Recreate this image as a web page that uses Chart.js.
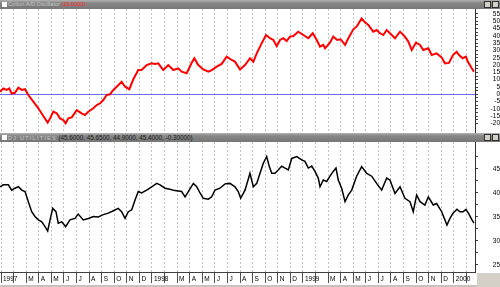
<!DOCTYPE html>
<html><head><meta charset="utf-8">
<script src="https://cdn.jsdelivr.net/npm/chart.js@4.4.1/dist/chart.umd.min.js"></script>
<style>
html,body{margin:0;padding:0;background:#fff;}
body{width:500px;height:287px;position:relative;overflow:hidden;font-family:"Liberation Sans",Arial,sans-serif;}
.bar{position:absolute;left:0;width:500px;height:9px;background:linear-gradient(#b4b4b4,#888 30%,#767676);font-size:5.6px;line-height:9px;color:#c4c4c4;white-space:nowrap;}
.bar .ico{position:absolute;left:2px;top:2px;width:5px;height:5px;background:#fff;}
.bar .t{position:absolute;left:8px;top:0;}
.bar .r{color:#ff2a2a;}
.bar .k{color:#1a1a1a;font-size:6.3px;}
.bar .n{letter-spacing:1.2px;}
.btn{position:absolute;top:1px;width:7px;height:7px;background:#d4d0c8;border:1px solid #303030;box-sizing:border-box;}
canvas{position:absolute;left:0;}
</style></head>
<body>
<div class="bar" style="top:0"><div class="ico"></div><div class="t">Cotton A/D Oscillator <span class="r">(15.0000)</span></div><div class="btn" style="left:484px"></div><div class="btn" style="left:492px"></div></div>
<canvas id="c1" width="500" height="124" style="top:9px"></canvas>
<div class="bar" style="top:133px"><div class="ico"></div><div class="t"><span class="n">DJ UTILITIES</span> <span class="k">(45.6000, 45.6500, 44.9000, 45.4000, -0.30000)</span></div><div class="btn" style="left:484px"></div><div class="btn" style="left:492px"></div></div>
<canvas id="c2" width="500" height="143" style="top:142px"></canvas>
<div style="position:absolute;left:0;top:285px;width:500px;height:2px;background:#c8c4bc"></div>
<div style="position:absolute;left:477px;top:273px;width:23px;height:14px;background:#d4d0c8"></div>
<script>
// ---- data ----
const monthLabels = ['1997','','M','A','M','J','J','A','S','O','N','D',
  '1998','','M','A','M','J','J','A','S','O','N','D',
  '1999','','M','A','M','J','J','A','S','O','N','D',
  '2000',''];
const oscTicks = [-20,-17.5,-15,-12.5,-10,-7.5,-5,-2.5,0,2.5,5,7.5,10,12.5,15,17.5,20,22.5,25,27.5,30,32.5,35,37.5,40,42.5,45,47.5,50,52.5,55];
const priceTicks = [25,27.5,30,32.5,35,37.5,40,42.5,45,47.5];
// month index since Jan 1997
const oscMonths = [-0.08,0.18,0.45,0.66,0.85,1.11,1.38,1.65,1.91,2.17,
2.57,2.97,3.36,3.71,3.90,4.16,4.43,4.69,4.95,5.14,
5.35,5.62,6.02,6.41,6.68,6.94,7.34,7.61,7.87,8.13,
8.40,8.66,8.93,9.20,9.59,9.86,10.20,10.52,10.91,11.18,
11.58,11.98,12.24,12.50,12.90,13.30,13.70,14.09,14.36,14.76,
15.16,15.37,15.68,16.08,16.48,16.75,17.15,17.54,17.94,18.34,
18.60,19.00,19.40,19.79,20.06,20.33,20.72,21.07,21.38,21.65,
21.92,22.18,22.44,22.71,22.97,23.24,23.63,24.03,24.43,24.78,
25.10,25.36,25.62,25.76,26.15,26.41,26.73,27.00,27.35,27.61,
28.01,28.27,28.67,28.93,29.20,29.59,29.86,30.13,30.39,30.66,
30.92,31.32,31.72,32.11,32.38,32.65,32.99,33.31,33.57,33.97,
34.24,34.63,35.03,35.29,35.61,35.93,36.22,36.41,36.70,36.96,
37.12,37.42,37.60];
const oscValues = [1.8,4,3,4,0.5,1,4.5,3,3.5,-0.5,
-5,-9.6,-14.9,-19.4,-16.5,-11.9,-13,-16.5,-17.6,-19.9,
-16.5,-15.8,-10.8,-13,-14.2,-11.9,-9.6,-7.3,-6.2,-3.9,
-0.5,0,3,5.2,8.6,5.2,3.5,10.3,16.6,16.6,
20,21.2,20.8,21.2,16.6,20,16.6,17.8,15.5,14.4,
21.6,24.7,20,17,15.5,16.6,18.9,20.8,25.8,23.5,
22.4,17,20,24.7,22.3,28,34.9,40.6,38.4,37.2,
33,37.2,38.4,36.5,39.5,39.9,42.9,40.6,38.4,41.8,
37.2,32.6,33.8,31.5,35.4,39.5,37.2,37.7,33.8,38.4,
44.5,46.3,52,49.3,47.5,42.9,44,41.8,40.6,44,
41.8,38.4,42.9,39.5,36.1,30.3,35.4,33.8,30.3,31.5,
26.9,28,25.3,21.2,21.5,26.9,29.2,26.9,24.7,25.8,
22.3,17.8,15.5];
const priceMonths = [-0.08,0.18,0.58,0.85,1.11,1.38,1.65,1.91,2.17,2.44,
2.70,2.97,3.24,3.50,3.71,3.90,4.11,4.37,4.55,4.83,
5.14,5.48,5.88,6.14,6.54,6.94,7.34,7.73,8.13,8.53,
8.93,9.32,9.59,9.86,10.12,10.39,10.65,10.91,11.18,11.58,
11.98,12.38,12.64,13.04,13.43,13.83,14.36,14.63,14.89,15.29,
15.56,15.82,16.08,16.48,16.75,17.01,17.41,17.81,18.20,18.60,
18.86,19.05,19.40,19.66,19.79,20.06,20.33,20.59,20.85,21.12,
21.33,21.52,21.78,22.04,22.31,22.58,22.84,23.11,23.51,23.90,
24.16,24.43,24.70,24.96,25.22,25.36,25.62,25.89,26.15,26.41,
26.63,26.81,27.08,27.35,27.61,27.88,28.27,28.67,29.07,29.47,
29.86,30.26,30.66,30.92,31.32,31.72,32.11,32.51,32.77,33.04,
33.31,33.70,33.97,34.36,34.63,35.03,35.29,35.45,35.69,35.93,
36.25,36.49,36.73,36.96,37.20,37.44,37.60];
const priceValues = [41.3,41.7,41.7,40.6,41.0,41.3,40.6,40.3,38.2,36.1,
35.1,34.4,34.0,33.0,32.1,34.4,36.8,36.1,33.7,34.0,
33.0,34.4,34.7,35.6,34.4,34.7,35.1,35.0,35.5,35.8,
36.3,36.8,36.1,34.7,36.1,36.5,38.5,40.3,40.0,40.6,
41.3,42.0,41.7,41.0,40.8,40.5,40.3,39.2,40.3,42.0,
41.3,40.0,38.9,38.7,39.2,40.6,41.0,41.9,42.0,41.3,
40.3,38.9,40.6,42.9,44.1,41.3,42.0,44.1,46.2,47.6,
45.5,44.1,44.1,44.8,45.6,45.2,44.8,47.2,47.6,46.9,
46.6,45.2,45.6,44.5,43.1,41.3,42.7,42.4,43.5,44.5,
45.2,42.7,41.0,38.2,39.6,40.6,43.5,45.5,44.1,43.5,
42.0,40.6,43.1,42.7,39.9,41.3,38.9,38.2,36.1,39.6,
38.2,37.5,39.2,37.5,37.8,36.1,34.4,33.3,34.7,35.8,
36.6,36.1,36.1,36.6,35.6,34.4,33.7];

// ---- chart setup ----
const X_MIN = -0.08, X_MAX = 37.68;
const FONT = "'Liberation Sans', Arial, sans-serif";
Chart.defaults.font.family = FONT;

function xScale(showLabels){
  return {
    type:'linear', min:X_MIN, max:X_MAX,
    afterBuildTicks: s => { s.ticks = monthLabels.map((_, i) => ({value:i})); },
    ticks:{ display:showLabels, autoSkip:false, maxRotation:0, minRotation:0, align:'start',
      labelOffset:2, padding:-8, color:'#000', font:{size:6.5, family:FONT},
      callback: v => monthLabels[Math.round(v)] },
    grid:{ color:'#c4c4c4', lineWidth:1, drawTicks:showLabels, tickLength:11, tickColor:'#505050', tickBorderDash:[] },
    border:{ display:showLabels, color:'#404040', dash:[2,2] },
    afterFit: s => { s.height = showLabels ? 13 : 0; s.paddingLeft = 0; s.paddingRight = 0; }
  };
}
function yScale(min, max, ticks, pad, zeroLine){
  return {
    type:'linear', position:'right', min, max,
    afterBuildTicks: s => { s.ticks = ticks.map(v => ({value:v})); },
    ticks:{ color:'#000', font:{size:6.5, family:FONT}, padding:pad, crossAlign:'far', autoSkip:false,
      callback: v => (v % 5 === 0 ? String(v) : '') },
    grid:{ drawOnChartArea:zeroLine, lineWidth:1,
      color: c => (zeroLine && c.tick && c.tick.value === 0) ? '#6b6bff' : 'rgba(0,0,0,0)',
      tickColor:'#404040', tickLength:3 },
    border:{ display:true, color:'#303030' },
    afterFit: s => { s.width = 25; s.paddingTop = 0; s.paddingBottom = 0; }
  };
}
const common = {
  responsive:false, animation:false, devicePixelRatio:1,
  layout:{ padding:0 },
  plugins:{ legend:{display:false}, tooltip:{enabled:false} },
  elements:{ point:{radius:0}, line:{tension:0} }
};

new Chart(document.getElementById('c1'), {
  type:'line',
  data:{ datasets:[{ data: oscMonths.map((m,i)=>({x:m, y:oscValues[i]})),
    borderColor:'#ff0000', borderWidth:2, pointRadius:0, fill:false }] },
  options:Object.assign({}, common, { scales:{
    x: xScale(false),
    y: yScale(-26.5, 58.42, oscTicks, 9.6, true)
  }})
});
new Chart(document.getElementById('c2'), {
  type:'line',
  data:{ datasets:[{ data: priceMonths.map((m,i)=>({x:m, y:priceValues[i]})),
    borderColor:'#000000', borderWidth:1.5, pointRadius:0, fill:false }] },
  options:Object.assign({}, common, { scales:{
    x: xScale(true),
    y: yScale(23.54, 50.625, priceTicks, 11.8, false)
  }})
});
</script>
</body></html>
